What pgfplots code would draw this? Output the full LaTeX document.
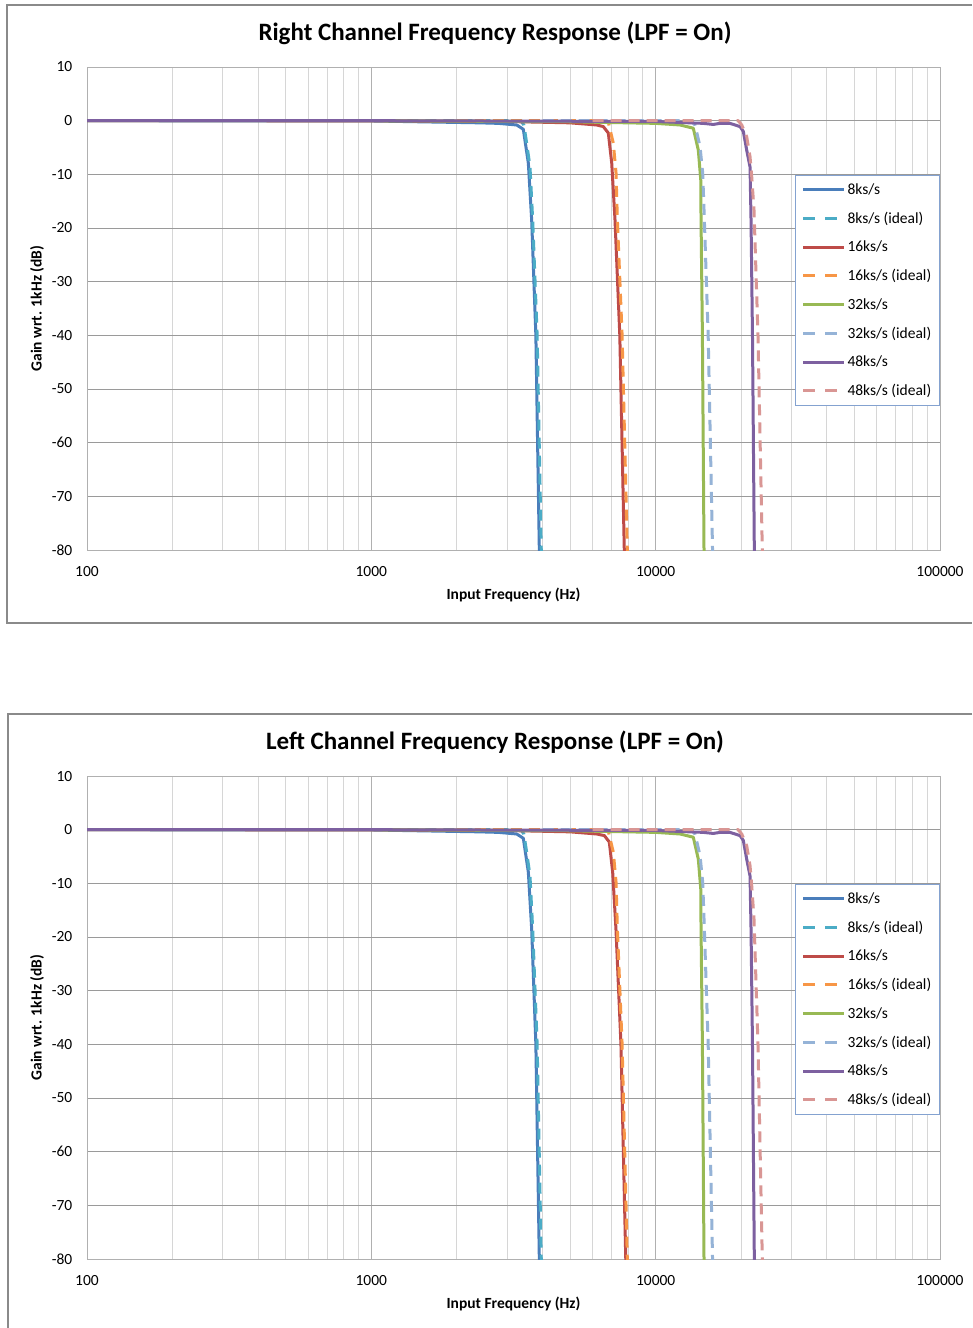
\documentclass[border=0pt]{standalone}
\usepackage{fontspec}
\setmainfont{Carlito}
\usepackage{pgfplots}
\pgfplotsset{compat=1.18}
\definecolor{c8}{HTML}{4A7EBB}
\definecolor{c8i}{HTML}{4BACC6}
\definecolor{c16}{HTML}{BE4B48}
\definecolor{c16i}{HTML}{F79646}
\definecolor{c32}{HTML}{98B954}
\definecolor{c32i}{HTML}{95B3D7}
\definecolor{c48}{HTML}{7D60A0}
\definecolor{c48i}{HTML}{D99694}
\definecolor{hgrid}{HTML}{9A9A9A}
\definecolor{vmaj}{HTML}{B0B0B0}
\definecolor{vmin}{HTML}{D6D6D6}
\definecolor{framec}{HTML}{8A8A8A}
\definecolor{legbd}{HTML}{84A2D0}
\pgfplotsset{
  every axis/.append style={
    scale only axis, width=853pt, height=483pt,
    xmin=100, xmax=100000, ymin=-80, ymax=10,
    xtick={100,1000,10000,100000}, xticklabels={100,1000,10000,100000},
    minor xtick={200,300,400,500,600,700,800,900,2000,3000,4000,5000,6000,7000,8000,9000,20000,30000,40000,50000,60000,70000,80000,90000},
    ytick={-80,-70,-60,-50,-40,-30,-20,-10,0,10},
    yticklabels={-80,-70,-60,-50,-40,-30,-20,-10,0,10},
    xmajorgrids, xminorgrids, ymajorgrids,
    major x grid style={draw=vmaj, line width=1pt},
    minor x grid style={draw=vmin, line width=1pt},
    major y grid style={draw=hgrid, line width=1pt},
    axis line style={draw=vmaj, line width=1pt},
    major tick length=0pt, minor tick length=0pt,
    tick label style={font=\fontsize{15.5}{18}\selectfont, inner sep=0pt},
    yticklabel style={xshift=-14.5pt},
    xticklabel style={yshift=-16.5pt},
    title style={at={(axis description cs:0.4783,1.0704)}, anchor=center, yshift=-6pt, font=\bfseries\fontsize{25}{30}\selectfont},
    xlabel={Input Frequency (Hz)},
    ylabel={Gain wrt. 1kHz (dB)},
    xlabel style={at={(axis description cs:0.5,0)}, anchor=center, yshift=-45pt, font=\bfseries\fontsize{15.5}{18}\selectfont},
    ylabel style={at={(axis description cs:-0.0586,0.5)}, anchor=center, font=\bfseries\fontsize{15.5}{18}\selectfont},
    legend cell align=left,
    legend style={at={(axis description cs:0.830,0.7764)}, anchor=north west,
      draw=legbd, line width=1pt, fill=white, inner xsep=6pt, inner ysep=6pt,
      row sep=12.2pt, column sep=0pt, nodes={inner xsep=2pt},
      font=\fontsize{15.5}{18}\selectfont},
  },
  legend image code/.code={\draw[#1] (0pt,0pt) -- (41pt,0pt);},
}
\begin{document}
\begin{tikzpicture}
\path[use as bounding box, fill=white] (0pt,0pt) rectangle (972pt,-1328pt);
\draw[framec, line width=1.3pt] (972pt,-5pt) -- (7pt,-5pt) -- (7pt,-623pt) -- (972pt,-623pt);
\draw[framec, line width=1.3pt] (972pt,-714pt) -- (8pt,-714pt) -- (8pt,-1328pt);
\begin{semilogxaxis}[at={(87pt,-550pt)}, anchor=south west,
  title={Right Channel Frequency Response (LPF = On)}]
\addplot[c8, line width=3pt, line join=round] coordinates {(100,0) (1000,-0.05) (2400,-0.4) (2800,-0.5) (3246,-0.8) (3424,-1.6) (3566,-7.9) (3664,-18.5) (3790,-40) (3898,-80) (3910,-85)};
\addlegendentry{8ks/s}
\addplot[c8i, line width=3pt, line join=round, dash pattern=on 11pt off 7pt, legend image post style={dash pattern=on 12pt off 10pt}] coordinates {(1000,0) (3350,0) (3440,-0.8) (3518,-4.2) (3614,-8.6) (3694,-18.5) (3830,-40) (3960,-80) (3975,-85)};
\addlegendentry{8ks/s (ideal)}
\addplot[c16, line width=3pt, line join=round] coordinates {(100,0) (1000,-0.02) (3000,-0.15) (5000,-0.4) (6202,-0.8) (6544,-1.1) (6816,-2.3) (7006,-7.9) (7194,-18.5) (7480,-40) (7757,-80) (7790,-85)};
\addlegendentry{16ks/s}
\addplot[c16i, line width=3pt, line join=round, dash pattern=on 11pt off 7pt, legend image post style={dash pattern=on 12pt off 10pt}] coordinates {(2000,0) (6600,0) (6816,-0.3) (7096,-4.2) (7256,-9.8) (7333,-18.5) (7620,-40) (7950,-80) (7980,-85)};
\addlegendentry{16ks/s (ideal)}
\addplot[c32, line width=3pt, line join=round] coordinates {(100,0) (1000,0) (5000,-0.2) (10000,-0.5) (12180,-0.8) (13563,-1.4) (14125,-5.5) (14405,-11) (14440,-18.5) (14600,-40) (14791,-80) (14820,-85)};
\addlegendentry{32ks/s}
\addplot[c32i, line width=3pt, line join=round, dash pattern=on 11pt off 7pt, legend image post style={dash pattern=on 12pt off 10pt}] coordinates {(4000,0) (13300,0) (13750,-0.8) (14320,-4.8) (14637,-9.8) (14791,-16.6) (15300,-40) (15850,-80) (15900,-85)};
\addlegendentry{32ks/s (ideal)}
\addplot[c48, line width=3pt, line join=round] coordinates {(100,0) (1000,0) (10000,-0.15) (14708,-0.5) (15950,-0.7) (16837,-0.5) (18255,-0.5) (19800,-1.1) (20335,-2.0) (20901,-5.5) (21470,-8.6) (21645,-18.5) (21900,-40) (22230,-80) (22280,-85)};
\addlegendentry{48ks/s}
\addplot[c48i, line width=3pt, line join=round, dash pattern=on 11pt off 7pt, legend image post style={dash pattern=on 12pt off 10pt}] coordinates {(6000,0) (19500,0) (20075,-0.8) (20901,-3.0) (21470,-6.7) (21766,-10.4) (22170,-16.6) (22900,-40) (23714,-80) (23800,-85)};
\addlegendentry{48ks/s (ideal)}
\end{semilogxaxis}
\begin{semilogxaxis}[at={(87pt,-1259pt)}, anchor=south west,
  title={Left Channel Frequency Response (LPF = On)}]
\addplot[c8, line width=3pt, line join=round] coordinates {(100,0) (1000,-0.05) (2400,-0.4) (2800,-0.5) (3246,-0.8) (3424,-1.6) (3566,-7.9) (3664,-18.5) (3790,-40) (3898,-80) (3910,-85)};
\addlegendentry{8ks/s}
\addplot[c8i, line width=3pt, line join=round, dash pattern=on 11pt off 7pt, legend image post style={dash pattern=on 12pt off 10pt}] coordinates {(1000,0) (3350,0) (3440,-0.8) (3518,-4.2) (3614,-8.6) (3694,-18.5) (3830,-40) (3960,-80) (3975,-85)};
\addlegendentry{8ks/s (ideal)}
\addplot[c16, line width=3pt, line join=round] coordinates {(100,0) (1000,-0.02) (3000,-0.15) (5000,-0.4) (6202,-0.8) (6600,-1.1) (6870,-2.3) (7060,-7.9) (7250,-18.5) (7550,-40) (7850,-80) (7880,-85)};
\addlegendentry{16ks/s}
\addplot[c16i, line width=3pt, line join=round, dash pattern=on 11pt off 7pt, legend image post style={dash pattern=on 12pt off 10pt}] coordinates {(2000,0) (6600,0) (6816,-0.3) (7096,-4.2) (7256,-9.8) (7333,-18.5) (7620,-40) (7950,-80) (7980,-85)};
\addlegendentry{16ks/s (ideal)}
\addplot[c32, line width=3pt, line join=round] coordinates {(100,0) (1000,0) (5000,-0.2) (10000,-0.5) (12180,-0.8) (13563,-1.4) (14125,-5.5) (14405,-11) (14440,-18.5) (14600,-40) (14791,-80) (14820,-85)};
\addlegendentry{32ks/s}
\addplot[c32i, line width=3pt, line join=round, dash pattern=on 11pt off 7pt, legend image post style={dash pattern=on 12pt off 10pt}] coordinates {(4000,0) (13300,0) (13750,-0.8) (14320,-4.8) (14637,-9.8) (14791,-16.6) (15300,-40) (15850,-80) (15900,-85)};
\addlegendentry{32ks/s (ideal)}
\addplot[c48, line width=3pt, line join=round] coordinates {(100,0) (1000,0) (10000,-0.15) (14708,-0.5) (15950,-0.7) (16837,-0.5) (18255,-0.5) (19800,-1.1) (20335,-2.0) (20901,-5.5) (21470,-8.6) (21645,-18.5) (21900,-40) (22230,-80) (22280,-85)};
\addlegendentry{48ks/s}
\addplot[c48i, line width=3pt, line join=round, dash pattern=on 11pt off 7pt, legend image post style={dash pattern=on 12pt off 10pt}] coordinates {(6000,0) (19500,0) (20075,-0.8) (20901,-3.0) (21470,-6.7) (21766,-10.4) (22170,-16.6) (22900,-40) (23714,-80) (23800,-85)};
\addlegendentry{48ks/s (ideal)}
\end{semilogxaxis}
\end{tikzpicture}
\end{document}
